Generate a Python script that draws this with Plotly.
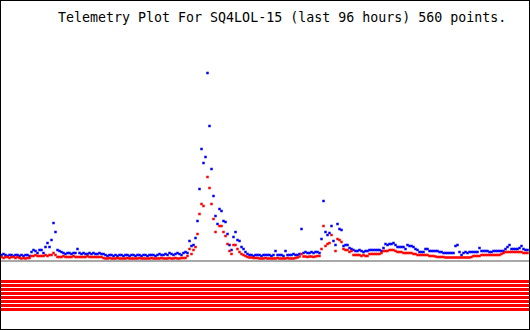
import numpy as np
import plotly.graph_objects as go

TITLE = "Telemetry Plot For SQ4LOL-15 (last 96 hours) 560 points."

# Channel 1 (blue) readings, oldest -> newest
blue_vals = [
    5, 6, 5, 4, 5, 5, 4, 5, 5, 4,
    5, 4, 5, 5, 4,
    8, 10, 9, 7, 10, 10, 7, 13, 17, 13,
    20, 37, 28,
    10, 9, 8,
    7, 6, 7, 7, 6, 7, 7,
    11,
    7, 6, 7, 6, 6, 7, 6, 7, 6, 6, 7, 6, 6,
    5, 4, 5, 5, 4, 5, 4, 5, 5, 4,
    5, 5, 4, 5, 5, 4, 5, 5, 4, 5,
    5, 4, 5, 5, 5, 4, 5, 6, 5, 5,
    6, 5, 7, 6, 5, 6, 7, 6, 5, 7,
    8,
    7, 19, 14, 15, 22, 39, 71, 111, 97, 103, 187, 134, 91, 64, 44, 36,
    51, 49, 39, 38, 26, 15, 10, 23, 28, 20, 19, 13, 11, 8, 6,
    5, 5, 4, 5, 5, 5, 4, 5, 5, 5,
    5, 4, 5, 9,
    5, 5, 5, 4, 9, 5, 5, 5, 6, 5, 5, 6,
    31,
    7, 8, 7, 7, 8, 7, 8, 8, 7,
    21, 59, 28, 25, 27, 34, 19, 15, 36, 31, 30,
    14, 15, 15, 12, 11, 10, 9, 9, 10, 9, 8, 9, 9, 10, 10, 10, 10, 10, 10,
    9, 12, 16, 15, 16, 16, 17, 15, 13, 13,
    13, 13, 11, 15, 14, 14, 13, 11, 10, 8,
    8, 8, 11, 11, 9, 9, 9, 9, 9, 8,
    8, 7, 7, 7, 7, 7, 7, 14, 15, 8,
    5, 7, 8, 7, 8, 8, 8, 8, 8, 12,
    9, 9, 9, 9, 8, 8, 9, 9, 9, 9,
    9, 9, 11, 13, 15, 11, 11, 11, 11, 12,
    14, 11, 10, 10,
]

# Channel 2 (red) readings, oldest -> newest (None = no sample)
red_vals = [
    3, 2, 3, 3, 2, 3, 3, 2, 3,
    2, 1.5, 2, 1.5, 2, 2,
    4, 4, 5, 4, 4, 4, 4, 5, 4, 5,
    5, 7, 5,
    3, 3, 3, 4, 3, 3, 3, 3, 4, 3, 3, 3, 3, 3, 3, 4, 3, 3, 3, 3, 3, 3, 3, 2,
    1.5, 1.5, 2, 1.5, 1.5, 1.5, 2, 1.5, 1.5, 1.5,
    1.5, 2, 1.5, 1.5, 1.5, 1.5, 1.5, 2, 1.5, 1.5,
    1.5, 1.5, 1.5, 2, 1.5, 1.5, 1.5, 1.5, 2, 1.5,
    1.5, 1.5, 2, 1.5, 1.5, 2, 1.5, 1.5, 2, 2,
    2,
    4, 11, 6, 10, 13, 26, 46, 56, 54, None, 83, 72, 56, 41, 28, None,
    34, 34, 28, 24, 16, 9, 6, 15, 15, 11, 8, 6, 5, 4, 3,
    2.5, 2.5, 2, 2, 2,
    1.5, 1.5, 1.5, 2, 1.5, 1.5, 1.5, 1.5, 1.5, 2,
    1.5, 1.5, 1.5, 1.5, 2, 1.5, 1.5, 1.5, 2, 2.5,
    3.5,
    6,
    3.5, 3.5, 3, 3.5, 3.5, 3, 3.5, 4, 4,
    11, 34, 14, 16, 17, 25, None, 9, 21, 20, 18,
    11, 10, 10, 8, 9,
    5, 5, 5, 5, 4, 5, 4, 4,
    6, 6, 6, 6, 6, 6,
    7, 9, 9, 9, 10, 10, 10, 9, 8, 8,
    8, 7, 7, 7, 7, 7, 6, 6, 5, 5,
    5, 5, 5, 5, 4, 4, 4, 3.5, 3, 3,
    3, 3, 2.5, 2.5, 2.5, 2.5, 2.5, 2.5, 2.5, 2.5,
    2.5, 2.5, 2.5, 2.5, 2.5, 3, 4, 4, 4, 4,
    5, 5, 5, 5, 5, 5, 5, 5, 5, 5,
    6, 7, 8, 8, 8, 8, 8, 8, 8, 8,
    8, 7, 7, 7,
]

HOURS = 96
N_STATUS_ROWS = 8

n = len(blue_vals)
assert len(red_vals) == n, (len(blue_vals), len(red_vals))
hours = np.linspace(-HOURS, 0, n)

# layout geometry (pixel mapping of the canvas)
W, H = 530, 330
px_per_hour = 2 * (n - 1) / HOURS
x0 = -HOURS - 1.5 / px_per_hour
x1 = x0 + W / px_per_hour
y_top, y_bot = 260, -70

fig = go.Figure()

# status rows (red bands under the plot)
for k in range(N_STATUS_ROWS):
    lvl = -21.5 - 4 * k
    fig.add_trace(go.Scatter(x=[x0 + 1 / px_per_hour, x1 - 1 / px_per_hour], y=[lvl, lvl],
                             mode="lines", line=dict(color="#ff0000", width=3),
                             hoverinfo="skip", showlegend=False))

# baseline
fig.add_trace(go.Scatter(x=[x0 + 1 / px_per_hour, x1 - 1 / px_per_hour], y=[-1, -1],
                         mode="lines", line=dict(color="#a8a8a8", width=2),
                         hoverinfo="skip", showlegend=False))

fig.add_trace(go.Scatter(x=hours, y=blue_vals, mode="markers",
                         marker=dict(symbol="square", size=2.5, color="#0000ff",
                                     line=dict(width=0)),
                         showlegend=False))
fig.add_trace(go.Scatter(x=hours, y=red_vals, mode="markers",
                         marker=dict(symbol="square", size=2.5, color="#ff0000",
                                     line=dict(width=0)),
                         showlegend=False))

fig.update_layout(
    width=W, height=H, autosize=False,
    margin=dict(l=0, r=0, t=0, b=0, pad=0),
    paper_bgcolor="white", plot_bgcolor="white",
    xaxis=dict(range=[x0, x1], visible=False, fixedrange=True),
    yaxis=dict(range=[y_bot, y_top], visible=False, fixedrange=True),
    shapes=[dict(type="rect", xref="paper", yref="paper", x0=0, y0=0, x1=1, y1=1,
                 line=dict(color="black", width=2), fillcolor="rgba(0,0,0,0)")],
    annotations=[dict(text=TITLE, xref="paper", yref="paper",
                      x=282 / W, y=1 - 17.5 / H, xanchor="center", yanchor="middle",
                      showarrow=False,
                      font=dict(family="DejaVu Sans Mono", size=13.3, color="black"))],
)

fig.write_html("out.html", config={"displayModeBar": False})
